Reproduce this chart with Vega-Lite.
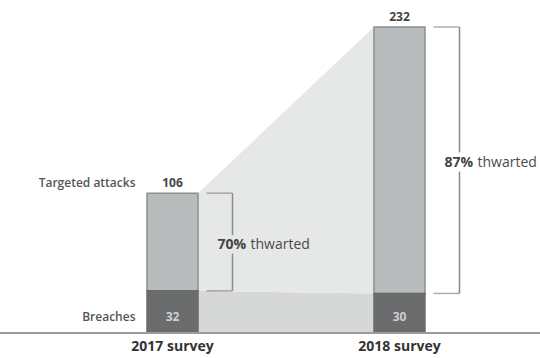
{
  "$schema": "https://vega.github.io/schema/vega-lite/v6.json",
  "width": 540,
  "height": 333,
  "autosize": "none",
  "padding": {"left": 0, "top": 0, "right": 0, "bottom": 25},
  "background": "white",
  "data": {"values": [
    {"survey": "2017 survey", "year": 2017, "attacks": 106, "breaches": 32, "pct": "70%", "word": "thwarted"},
    {"survey": "2018 survey", "year": 2018, "attacks": 232, "breaches": 30, "pct": "87%", "word": "thwarted"}
  ]},
  "config": {
    "view": {"stroke": null},
    "font": "Open Sans",
    "axisX": {"domain": false, "ticks": false, "labelAngle": 0, "labelOverlap": false, "labelLimit": 0, "labelFontSize": 14, "labelFontWeight": "bold", "labelColor": "#333333", "labelPadding": 6, "labelFont": "Open Sans", "grid": false}
  },
  "resolve": {"scale": {"x": "independent"}},
  "layer": [
    {
      "mark": {"type": "area", "color": "#d6d7d7"},
      "encoding": {
        "x": {"field": "year", "type": "quantitative", "scale": {"domain": [2017, 2018], "range": [198, 374]}, "axis": null},
        "y": {"field": "breaches", "type": "quantitative", "scale": {"domain": [0, 252.46], "nice": false, "zero": false}, "axis": null},
        "y2": {"datum": 0}
      }
    },
    {
      "mark": {"type": "area", "color": "#e6e7e7"},
      "encoding": {
        "x": {"field": "year", "type": "quantitative", "scale": {"domain": [2017, 2018], "range": [198, 374]}, "axis": null},
        "y": {"field": "attacks", "type": "quantitative", "axis": null},
        "y2": {"field": "breaches"}
      }
    },
    {
      "layer": [
        {
          "mark": {"type": "bar", "fill": "#b9bcbd", "stroke": "#8c8f8f", "strokeWidth": 1.5},
          "encoding": {
            "x": {"field": "survey", "type": "nominal", "title": null, "scale": {"type": "band", "range": [147, 425], "paddingInner": 0.7753, "paddingOuter": 0}},
            "y": {"field": "breaches", "type": "quantitative", "axis": null},
            "y2": {"field": "attacks"}
          }
        },
        {
          "mark": {"type": "bar", "fill": "#6b6c6d", "stroke": "#6b6c6d", "strokeWidth": 1.5},
          "encoding": {
            "x": {"field": "survey", "type": "nominal", "title": null},
            "y": {"field": "breaches", "type": "quantitative", "axis": null},
            "y2": {"datum": 0}
          }
        },
        {
          "mark": {"type": "rule", "color": "#9b9b9b", "strokeWidth": 2, "xOffset": 13},
          "encoding": {
            "y": {"datum": 0, "type": "quantitative", "axis": null}
          }
        },
        {
          "mark": {"type": "text", "baseline": "bottom", "dy": -3, "fontSize": 12, "fontWeight": "bold", "color": "#444444"},
          "encoding": {
            "x": {"field": "survey", "type": "nominal", "title": null},
            "y": {"field": "attacks", "type": "quantitative", "axis": null},
            "text": {"field": "attacks"}
          }
        },
        {
          "mark": {"type": "text", "baseline": "middle", "dy": -16, "fontSize": 12, "fontWeight": "bold", "color": "#cfcfcf"},
          "encoding": {
            "x": {"field": "survey", "type": "nominal", "title": null},
            "y": {"datum": 0, "type": "quantitative", "axis": null},
            "text": {"field": "breaches"}
          }
        },
        {
          "transform": [{"filter": "datum.year == 2017"}],
          "mark": {"type": "text", "baseline": "bottom", "align": "right", "dx": -37, "dy": -3, "fontSize": 12, "fontWeight": 600, "color": "#555555"},
          "encoding": {
            "x": {"field": "survey", "type": "nominal", "title": null},
            "y": {"field": "attacks", "type": "quantitative", "axis": null},
            "text": {"value": "Targeted attacks"}
          }
        },
        {
          "transform": [{"filter": "datum.year == 2017"}],
          "mark": {"type": "text", "baseline": "middle", "align": "right", "dx": -37, "dy": -16, "fontSize": 12, "fontWeight": 600, "color": "#555555"},
          "encoding": {
            "x": {"field": "survey", "type": "nominal", "title": null},
            "y": {"datum": 0, "type": "quantitative", "axis": null},
            "text": {"value": "Breaches"}
          }
        },
        {
          "mark": {"type": "tick", "orient": "horizontal", "size": 26, "thickness": 1.5, "xOffset": 47, "color": "#8a8a8a"},
          "encoding": {
            "x": {"field": "survey", "type": "nominal", "title": null},
            "y": {"field": "attacks", "type": "quantitative", "axis": null}
          }
        },
        {
          "mark": {"type": "tick", "orient": "horizontal", "size": 26, "thickness": 1.5, "xOffset": 47, "color": "#8a8a8a"},
          "encoding": {
            "x": {"field": "survey", "type": "nominal", "title": null},
            "y": {"field": "breaches", "type": "quantitative", "axis": null}
          }
        },
        {
          "mark": {"type": "rule", "strokeWidth": 1.5, "xOffset": 60, "color": "#8a8a8a"},
          "encoding": {
            "x": {"field": "survey", "type": "nominal", "title": null},
            "y": {"field": "attacks", "type": "quantitative", "axis": null},
            "y2": {"field": "breaches"}
          }
        },
        {
          "transform": [{"calculate": "(datum.attacks + datum.breaches) / 2", "as": "mid"}],
          "mark": {"type": "text", "align": "left", "baseline": "middle", "dx": 45, "dy": 3, "fontSize": 14, "fontWeight": "bold", "strokeWidth": 9},
          "encoding": {
            "x": {"field": "survey", "type": "nominal", "title": null},
            "y": {"field": "mid", "type": "quantitative", "axis": null},
            "text": {"field": "pct"},
            "stroke": {"field": "survey", "type": "nominal", "scale": {"range": ["#e6e7e7", "#ffffff"]}, "legend": null},
            "fill": {"field": "survey", "type": "nominal", "scale": {"range": ["#e6e7e7", "#ffffff"]}, "legend": null}
          }
        },
        {
          "transform": [{"calculate": "(datum.attacks + datum.breaches) / 2", "as": "mid"}],
          "mark": {"type": "text", "align": "left", "baseline": "middle", "dx": 78, "dy": 3, "fontSize": 14, "strokeWidth": 9},
          "encoding": {
            "x": {"field": "survey", "type": "nominal", "title": null},
            "y": {"field": "mid", "type": "quantitative", "axis": null},
            "text": {"field": "word"},
            "stroke": {"field": "survey", "type": "nominal", "legend": null},
            "fill": {"field": "survey", "type": "nominal", "legend": null}
          }
        },
        {
          "transform": [{"calculate": "(datum.attacks + datum.breaches) / 2", "as": "mid"}],
          "mark": {"type": "text", "align": "left", "baseline": "middle", "dx": 45, "dy": 3, "fontSize": 14, "fontWeight": "bold", "color": "#444444"},
          "encoding": {
            "x": {"field": "survey", "type": "nominal", "title": null},
            "y": {"field": "mid", "type": "quantitative", "axis": null},
            "text": {"field": "pct"}
          }
        },
        {
          "transform": [{"calculate": "(datum.attacks + datum.breaches) / 2", "as": "mid"}],
          "mark": {"type": "text", "align": "left", "baseline": "middle", "dx": 78, "dy": 3, "fontSize": 14, "color": "#4a4a4a"},
          "encoding": {
            "x": {"field": "survey", "type": "nominal", "title": null},
            "y": {"field": "mid", "type": "quantitative", "axis": null},
            "text": {"field": "word"}
          }
        }
      ]
    }
  ]
}
